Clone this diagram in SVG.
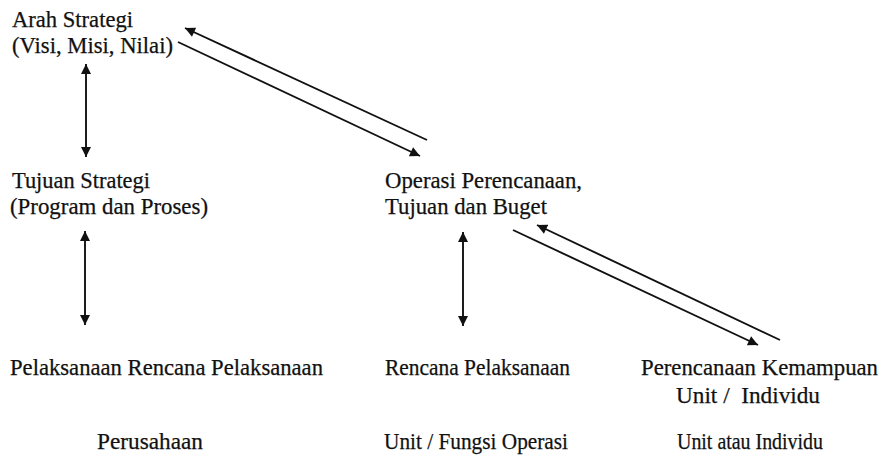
<svg xmlns="http://www.w3.org/2000/svg" width="882" height="462" viewBox="0 0 882 462">
<defs>
<marker id="ah" viewBox="0 0 10 10" refX="10" refY="5" markerWidth="11" markerHeight="10" markerUnits="userSpaceOnUse" orient="auto-start-reverse">
<path d="M0,0 L10,5 L0,10 Z" fill="#111"/>
</marker>
<style>
text{font-family:"Liberation Serif","Times New Roman",serif;font-size:22.5px;fill:#111;stroke:#111;stroke-width:0.25}
.n{font-size:23.5px}
.c{stroke:#111;stroke-width:1.9;fill:none}
</style>
</defs>
<rect width="882" height="462" fill="#fff"/>
<g id="arah"><text x="12" y="27" textLength="121" lengthAdjust="spacingAndGlyphs">Arah Strategi</text><text x="12" y="53" textLength="161" lengthAdjust="spacingAndGlyphs">(Visi, Misi, Nilai)</text></g>
<g id="tujuan"><text x="12" y="188" textLength="138" lengthAdjust="spacingAndGlyphs">Tujuan Strategi</text><text x="10" y="214" textLength="198" lengthAdjust="spacingAndGlyphs">(Program dan Proses)</text></g>
<g id="pelaksanaan"><text x="10" y="375" textLength="313" lengthAdjust="spacingAndGlyphs">Pelaksanaan Rencana Pelaksanaan</text></g>
<g id="operasi"><text x="385" y="188" textLength="197" lengthAdjust="spacingAndGlyphs">Operasi Perencanaan,</text><text x="385" y="214" textLength="162" lengthAdjust="spacingAndGlyphs">Tujuan dan Buget</text></g>
<g id="rencana"><text x="385" y="375" textLength="185" lengthAdjust="spacingAndGlyphs">Rencana Pelaksanaan</text></g>
<g id="kemampuan"><text x="641" y="375" textLength="237" lengthAdjust="spacingAndGlyphs">Perencanaan Kemampuan</text><text class="n" x="676" y="403" textLength="144" lengthAdjust="spacingAndGlyphs" xml:space="preserve">Unit /  Individu</text></g>
<g id="perusahaan"><text class="n" x="97" y="449" textLength="106" lengthAdjust="spacingAndGlyphs">Perusahaan</text></g>
<g id="unitfungsi"><text class="n" x="384" y="449" textLength="184" lengthAdjust="spacingAndGlyphs">Unit / Fungsi Operasi</text></g>
<g id="unitatau"><text class="n" x="677" y="449" textLength="146" lengthAdjust="spacingAndGlyphs">Unit atau Individu</text></g>
<g id="connectors">
<line class="c" x1="86" y1="64" x2="86" y2="157" marker-start="url(#ah)" marker-end="url(#ah)"/>
<line class="c" x1="85" y1="231" x2="85" y2="325" marker-start="url(#ah)" marker-end="url(#ah)"/>
<line class="c" x1="463" y1="232" x2="463" y2="326" marker-start="url(#ah)" marker-end="url(#ah)"/>
<line class="c" x1="427" y1="140" x2="185" y2="28" marker-end="url(#ah)"/>
<line class="c" x1="178" y1="42" x2="420" y2="156" marker-end="url(#ah)"/>
<line class="c" x1="513" y1="230" x2="758" y2="345" marker-end="url(#ah)"/>
<line class="c" x1="780" y1="340" x2="537" y2="225" marker-end="url(#ah)"/>
</g>
</svg>
